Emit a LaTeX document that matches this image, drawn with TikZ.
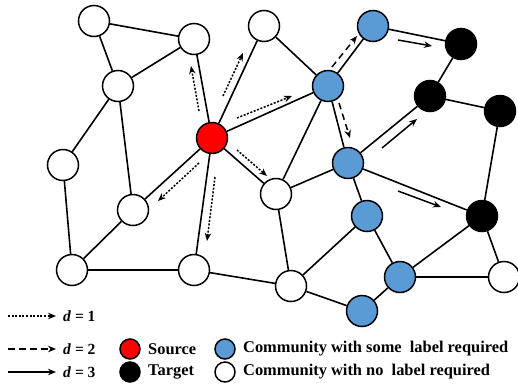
\documentclass[tikz,border=0pt]{standalone}
\usepackage{fontspec}
\setmainfont{Liberation Serif}
\usetikzlibrary{arrows.meta}
\definecolor{srcred}{HTML}{FF0000}
\definecolor{commblue}{HTML}{5B9BD5}
\tikzset{
  vtx/.style={circle,draw=black,line width=1.5pt,minimum size=31pt,inner sep=0pt},
  plain/.style={vtx,fill=white},
  srcv/.style={vtx,fill=srcred},
  bluev/.style={vtx,fill=commblue},
  tgtv/.style={vtx,fill=black},
  edge/.style={line width=1.6pt},
  hop/.style={line width=1.5pt,-{Stealth[length=8pt,width=6.5pt]}},
  hopone/.style={hop,dash pattern=on 2pt off 1.6pt},
  hoptwo/.style={hop,dash pattern=on 6.5pt off 4.5pt},
  hopthree/.style={hop},
  legv/.style={circle,draw=black,line width=1.5pt,minimum size=20pt,inner sep=0pt},
  legtxt/.style={anchor=west,font=\fontsize{16.4}{18}\selectfont\bfseries,inner sep=0pt},
  dtxt/.style={anchor=west,font=\fontsize{15.5}{18}\selectfont\bfseries,inner sep=0pt},
}
\begin{document}
\begin{tikzpicture}[x=1pt,y=-1pt]
\useasboundingbox (0,0) rectangle (518,386);

% vertices
\node[plain] (n1) at (94,21) {};
\node[plain] (n2) at (194,39) {};
\node[plain] (n3) at (118,86) {};
\node[plain] (n4) at (63,165) {};
\node[plain] (n5) at (133,210) {};
\node[plain] (n6) at (72,270) {};
\node[plain] (n7) at (194,270) {};
\node[plain] (n8) at (264,26) {};
\node[plain] (n9) at (276,194) {};
\node[plain] (n10) at (291,286) {};
\node[plain] (n11) at (504,277) {};
\node[srcv] (s) at (212,138) {};
\node[bluev] (b1) at (373,26) {};
\node[bluev] (b2) at (328,86) {};
\node[bluev] (b3) at (348,163) {};
\node[bluev] (b4) at (367,216) {};
\node[bluev] (b5) at (400,277) {};
\node[bluev] (b6) at (362,311) {};
\node[tgtv] (k1) at (461,44) {};
\node[tgtv] (k2) at (430,96) {};
\node[tgtv] (k3) at (500,111) {};
\node[tgtv] (k4) at (482,216) {};

% edges
\foreach \a/\b in {n1/n2,n1/n3,n3/n2,n3/n4,n3/n5,n2/s,s/n8,s/b2,s/n5,s/n7,s/n9,
  n4/n6,n5/n6,n6/n7,n7/n10,n8/b2,b2/b1,b2/b3,b2/n9,b1/k1,k1/k2,k2/k3,k2/b3,
  k3/k4,b3/n9,b3/b4,b3/k4,b4/n10,b4/b5,k4/b5,k4/n11,b5/n11,n10/b6,b6/b5,n9/n10}
  \draw[edge] (\a) -- (\b);

% hop arrows, d = 1
\coordinate (h1a) at (199,111); \coordinate (h1b) at (191,66);
\coordinate (h2a) at (223,96);  \coordinate (h2b) at (243,53);
\coordinate (h3a) at (237,118); \coordinate (h3b) at (292,96);
\coordinate (h4a) at (237,150); \coordinate (h4b) at (267,176);
\coordinate (h5a) at (215,177); \coordinate (h5b) at (207,241);
\coordinate (h6a) at (199,163); \coordinate (h6b) at (158,201);
\foreach \i in {1,...,6} \draw[hopone] (h\i a) -- (h\i b);

% hop arrows, d = 2
\coordinate (t1a) at (332,67);  \coordinate (t1b) at (357,36);
\coordinate (t2a) at (339,103); \coordinate (t2b) at (350,138);
\foreach \i in {1,2} \draw[hoptwo] (t\i a) -- (t\i b);

% hop arrows, d = 3
\coordinate (r1a) at (398,40);  \coordinate (r1b) at (432,46);
\coordinate (r2a) at (382,148); \coordinate (r2b) at (417,119);
\coordinate (r3a) at (398,191); \coordinate (r3b) at (441,207);
\foreach \i in {1,2,3} \draw[hopthree] (r\i a) -- (r\i b);

% legend: hop distances
\coordinate (la1) at (8,316);  \coordinate (lb1) at (56,316);
\coordinate (la2) at (8,349);  \coordinate (lb2) at (56,349);
\coordinate (la3) at (8,372);  \coordinate (lb3) at (56,372);
\draw[hopone] (la1) -- (lb1);
\draw[hoptwo] (la2) -- (lb2);
\draw[hopthree] (la3) -- (lb3);
\node[dtxt] (ld1) at (63,316) {\textit{d} = 1};
\node[dtxt] (ld2) at (63,349) {\textit{d} = 2};
\node[dtxt] (ld3) at (63,372) {\textit{d} = 3};

% legend: vertex kinds
\node[legv,fill=srcred] (lsrc) at (130,349) {};
\node[legv,fill=black] (ltgt) at (130,372) {};
\node[legv,fill=commblue] (lblue) at (225,349) {};
\node[legv,fill=white] (lwhite) at (225,372) {};
\node[legtxt] (tsrc) at (148,349) {Source};
\node[legtxt] (ttgt) at (148,372) {Target};
\node[legtxt] (tblue) at (243,349) {Community with some\ \ label required};
\node[legtxt] (twhite) at (243,372) {Community with no\ \ label required};
\end{tikzpicture}
\end{document}
